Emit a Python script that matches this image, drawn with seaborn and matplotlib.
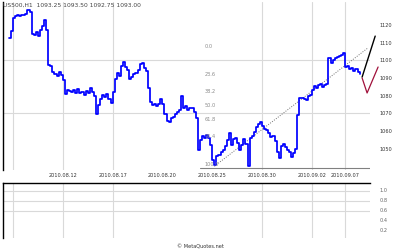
import matplotlib
matplotlib.use("Agg")
import matplotlib.pyplot as plt
import numpy as np
import pandas as pd
import seaborn as sns

# ---------------- data ----------------
closes = [
    1112.6, 1116.6, 1123.9, 1125.0, 1125.6, 1125.0, 1125.6, 1125.6, 1126.2, 1128.5,
    1127.3, 1114.9, 1114.3, 1116.0, 1113.7, 1117.1, 1119.4, 1122.8, 1117.1, 1097.3,
    1096.7, 1093.3, 1092.2, 1091.1, 1093.3, 1091.7, 1088.8, 1080.9, 1083.2, 1082.6,
    1082.0, 1083.2, 1081.5, 1083.7, 1081.5, 1082.0, 1080.3, 1082.6, 1081.5, 1084.3,
    1082.0, 1079.8, 1069.6, 1074.7, 1078.1, 1080.3, 1079.2, 1080.9, 1078.1, 1075.8,
    1082.0, 1089.4, 1092.8, 1091.1, 1096.7, 1099.0, 1096.2, 1094.5, 1089.4, 1090.5,
    1092.2, 1092.8, 1094.5, 1097.9, 1098.4, 1095.6, 1093.9, 1084.3, 1076.4, 1074.7,
    1075.2, 1074.1, 1075.2, 1078.1, 1075.2, 1069.6, 1065.6, 1065.0, 1067.3, 1067.9,
    1069.6, 1070.7, 1071.8, 1079.8, 1073.0, 1074.1, 1071.8, 1073.0, 1073.0, 1070.7,
    1067.3, 1049.2, 1054.9, 1057.1, 1056.0, 1057.7, 1056.0, 1052.0, 1043.5, 1040.7,
    1045.8, 1046.4, 1048.1, 1049.2, 1051.5, 1054.9, 1058.8, 1052.0, 1055.4, 1056.0,
    1053.2, 1049.2, 1052.0, 1055.4, 1052.6, 1040.1, 1056.0, 1057.1, 1059.4, 1062.2,
    1063.9, 1065.0, 1062.8, 1061.1, 1060.5, 1058.8, 1056.6, 1057.1, 1054.3, 1048.1,
    1044.7, 1051.5, 1052.6, 1050.9, 1049.2, 1048.1, 1045.2, 1047.5, 1049.8, 1069.0,
    1078.6, 1078.6, 1078.1, 1077.5, 1079.8, 1080.3, 1083.2, 1085.4, 1084.3, 1086.0,
    1086.6, 1084.9, 1086.0, 1086.6, 1101.3, 1098.4, 1100.1, 1101.3, 1101.8, 1102.4,
    1103.0, 1104.1, 1096.2, 1096.7, 1095.0, 1095.6, 1093.9, 1095.0, 1093.3, 1092.2,
]
bars_per_day = 8
first_day_bar = 2          # bar index where 2010.08.09 begins
date_labels = ["2010.08.12", "2010.08.17", "2010.08.20", "2010.08.25",
               "2010.08.30", "2010.09.02", "2010.09.07"]
date_day_index = [3, 6, 9, 12, 15, 18, 20]
grid_day_index = [0, 3, 6, 15, 18, 20]

price_ticks = [1120, 1110, 1100, 1090, 1080, 1070, 1060, 1050]
price_grid = [1100, 1070]

fib_levels = [0.0, 23.6, 38.2, 50.0, 61.8, 76.4, 100.0]
fib_high, fib_low = 1105.9, 1039.1

trend_bars = [99, 173]
trend_prices = [1040.0, 1107.0]
proj_up_bars = [170.2, 176.5]
proj_up_prices = [1090.5, 1113.7]
proj_dn_bars = [170.2, 172.6, 177.9]
proj_dn_prices = [1090.0, 1081.5, 1096.2]

ind_ticks = [1.0, 0.8, 0.6, 0.4, 0.2]
ind_grid = [1.0, 0.8, 0.6]

title_text = "US500,H1  1093.25 1093.50 1092.75 1093.00"
footer_text = "© MetaQuotes.net"

# ---------------- figure ----------------
sns.set_style("white")
plt.rcParams["font.family"] = ["DejaVu Sans"]

W, H = 400, 250
fig = plt.figure(figsize=(W / 100, H / 100), dpi=100)
fig.patch.set_facecolor("white")

ax = fig.add_axes([3 / W, 1 - 170 / H, 367 / W, 168 / H])
ax2 = fig.add_axes([3 / W, 1 - 238 / H, 367 / W, 55 / H])

xmin, xmax = -2.8, 174.0
grid_col = "#d9d9d9"
txt_col = "#333333"
fs = 3.6

df = pd.DataFrame({"bar": np.arange(len(closes)), "close": closes})

for a in (ax, ax2):
    a.set_xlim(xmin, xmax)
    for s in ("right", "bottom"):
        a.spines[s].set_visible(False)
    a.spines["left"].set_color("black")
    a.spines["left"].set_linewidth(1.0)
    for d in grid_day_index:
        a.axvline(first_day_bar + bars_per_day * d, color=grid_col, lw=0.8, zorder=0)

ax.spines["top"].set_visible(False)
ax2.spines["top"].set_color("black")
ax2.spines["top"].set_linewidth(1.0)

# main panel
ax.set_ylim(1037.9, 1133.0)
for p in price_grid:
    ax.axhline(p, color=grid_col, lw=0.8, zorder=0)

sns.lineplot(data=df, x="bar", y="close", ax=ax, color="#0000ff", lw=1.25,
             zorder=3, legend=False, drawstyle="steps-post")

ax.plot(trend_bars, trend_prices, color="#707070", lw=0.7, ls=(0, (1, 1.5)), zorder=2)
ax.plot(proj_up_bars, proj_up_prices, color="black", lw=1.0, zorder=4, clip_on=False)
ax.plot(proj_dn_bars, proj_dn_prices, color="#a0103a", lw=0.9, zorder=4, clip_on=False)
ax.plot([92, xmax], [fib_low, fib_low], color="#808080", lw=0.8, zorder=1)

for lvl in fib_levels:
    yv = fib_high - lvl / 100.0 * (fib_high - fib_low)
    ax.text(94.5, yv + 0.6, f"{lvl:.1f}", fontsize=fs, color="#8a8a8a",
            ha="left", va="bottom")

ax.set_xticks([first_day_bar + bars_per_day * d for d in date_day_index])
ax.set_xticklabels(date_labels)
ax.tick_params(axis="x", length=0, pad=2.5, labelsize=fs, labelcolor=txt_col)
ax.yaxis.tick_right()
ax.set_yticks(price_ticks)
ax.set_yticklabels([str(p) for p in price_ticks])
ax.set_yticks(price_grid, minor=True)
ax.tick_params(axis="y", which="major", length=0, pad=7, labelsize=fs,
               labelcolor=txt_col)
ax.tick_params(axis="y", which="minor", length=2, width=0.6, color=txt_col,
               right=True, left=False)
ax.set_xlabel("")
ax.set_ylabel("")

# indicator panel
ax2.set_ylim(0.05, 1.15)
for v in ind_grid:
    ax2.axhline(v, color=grid_col, lw=0.8, zorder=0)
ax2.set_xticks([])
ax2.yaxis.tick_right()
ax2.set_yticks(ind_ticks)
ax2.set_yticklabels([f"{v:.1f}" for v in ind_ticks])
ax2.set_yticks(ind_grid, minor=True)
ax2.tick_params(axis="y", which="major", length=0, pad=7, labelsize=fs,
                labelcolor="#666666")
ax2.tick_params(axis="y", which="minor", length=2, width=0.6, color="#666666",
                right=True, left=False)

fig.text(3 / W, 1 - 5 / H, title_text, fontsize=4.3, color="#444444",
         ha="left", va="center")
fig.text(200 / W, 1 - 247 / H, footer_text, fontsize=fs, color=txt_col,
         ha="center", va="center")

fig.savefig("out.png", dpi=100)
